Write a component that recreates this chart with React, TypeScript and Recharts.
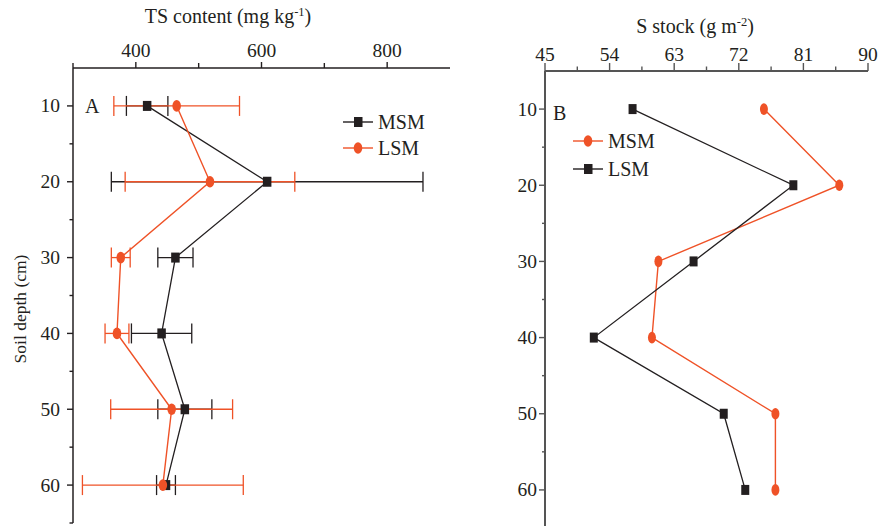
import React from 'react';
import { ScatterChart, Scatter, XAxis, YAxis, ErrorBar, Legend } from 'recharts';

// soil depth (cm)
const depths = [10, 20, 30, 40, 50, 60];

// panel A: TS content (mg kg-1)
const tsMsm = [418, 609, 463, 441, 478, 448];
const tsMsmErr = [33, 248, 28, 48, 43, 15];
const tsLsm = [465, 518, 376, 370, 457, 443];
const tsLsmErr = [100, 135, 15, 19, 97, 128];

// panel B: S stock (g m-2)
const stockOrange = [75.5, 86.0, 60.8, 59.9, 77.1, 77.1]; // legend "MSM"
const stockBlack = [57.2, 79.6, 65.7, 51.8, 69.9, 72.9]; // legend "LSM"

const tsTicks = [300, 400, 500, 600, 700, 800];
const tsLabels = [400, 600, 800];
const stockTicks = [45, 49.5, 54, 58.5, 63, 67.5, 72, 76.5, 81, 85.5, 90];
const stockLabels = [45, 54, 63, 72, 81, 90];
const depthTicksA = [10, 15, 20, 25, 30, 35, 40, 45, 50, 55, 60, 65];
const depthTicksB = [10, 15, 20, 25, 30, 35, 40, 45, 50, 55, 60];
const depthLabels = [10, 20, 30, 40, 50, 60];

const BLACK = '#231F20';
const ORANGE = '#EF5227';
const FONT = '"Liberation Serif", "Times New Roman", serif';

const rows = (xs: number[], errs?: number[]) =>
  depths.map((d, i) => ({ y: d, x: xs[i], err: errs ? errs[i] : 0 }));

const square = (color: string, w: number, h: number) => (p: any) =>
  <rect x={p.cx - w / 2} y={p.cy - h / 2} width={w} height={h} fill={color} />;
const dot = (color: string, rx: number, ry: number) => (p: any) =>
  <ellipse cx={p.cx} cy={p.cy} rx={rx} ry={ry} fill={color} />;

const topTick = (axisY: number, labels: number[], major: number, minor: number, gap: number, stroke: string) =>
  (p: any) => {
    const v = p.payload.value;
    const isMajor = labels.includes(v);
    return (
      <g>
        <line x1={p.x} x2={p.x} y1={axisY} y2={axisY - (isMajor ? major : minor)} stroke={stroke} strokeWidth={1.4} />
        {isMajor && (
          <text x={p.x} y={axisY - gap} textAnchor="middle" fontSize={19.5} fill={BLACK} fontFamily={FONT}>{v}</text>
        )}
      </g>
    );
  };

const leftTick = (axisX: number, labels: number[], major: number, minor: number, labelRight: number, stroke: string) =>
  (p: any) => {
    const v = p.payload.value;
    const isMajor = labels.includes(v);
    return (
      <g>
        <line x1={axisX} x2={axisX - (isMajor ? major : minor)} y1={p.y} y2={p.y} stroke={stroke} strokeWidth={1.4} />
        {isMajor && (
          <text x={labelRight} y={p.y + 6.5} textAnchor="end" fontSize={19.5} fill={BLACK} fontFamily={FONT}>{v}</text>
        )}
      </g>
    );
  };

const LegendBox = ({ items, rowGap }: { items: { name: string; color: string; marker: 'square' | 'circle' }[]; rowGap: number }) => (
  <svg width={110} height={70}>
    {items.map((it, i) => {
      const cy = 12 + i * rowGap;
      return (
        <g key={it.name}>
          <line x1={5} x2={35} y1={cy} y2={cy} stroke={it.color} strokeWidth={1.4} />
          {it.marker === 'square'
            ? <rect x={16} y={cy - 5} width={8.5} height={10} fill={it.color} />
            : <ellipse cx={20} cy={cy} rx={4.3} ry={5.8} fill={it.color} />}
          <text x={40} y={cy + 7} fontSize={20} fill={BLACK} fontFamily={FONT}>{it.name}</text>
        </g>
      );
    })}
  </svg>
);

const ChartA = () => (
  <ScatterChart width={470} height={526} margin={{ top: 0, right: 20, bottom: 3, left: 0 }} style={{ fontFamily: FONT }}>
    <XAxis
      type="number"
      dataKey="x"
      orientation="top"
      domain={[300, 900]}
      ticks={tsTicks}
      interval={0}
      height={68}
      tickLine={false}
      axisLine={{ stroke: BLACK, strokeWidth: 1.5 }}
      tick={topTick(68, tsLabels, 6, 5, 11.5, BLACK)}
      label={() => (
        <text x={228} y={23} textAnchor="middle" fontSize={20} fill={BLACK} fontFamily={FONT}>
          TS content (mg kg<tspan dy={-7} fontSize={12.5}>-1</tspan><tspan dy={7}>)</tspan>
        </text>
      )}
    />
    <YAxis
      type="number"
      dataKey="y"
      reversed
      domain={[5, 65]}
      ticks={depthTicksA}
      interval={0}
      width={73}
      tickLine={false}
      axisLine={{ stroke: BLACK, strokeWidth: 1.5 }}
      tick={leftTick(73, depthLabels, 6, 3.5, 60, BLACK)}
      label={() => (
        <g>
          <text transform="translate(26,309) rotate(-90)" textAnchor="middle" fontSize={17.5} fill={BLACK} fontFamily={FONT}>
            Soil depth (cm)
          </text>
          <text x={85} y={113} fontSize={20} fill={BLACK} fontFamily={FONT}>A</text>
        </g>
      )}
    />
    <Legend
      layout="vertical"
      align="center"
      verticalAlign="middle"
      wrapperStyle={{ left: 338, top: 110, width: 110, height: 70 }}
      content={() => (
        <LegendBox
          rowGap={26}
          items={[
            { name: 'MSM', color: BLACK, marker: 'square' },
            { name: 'LSM', color: ORANGE, marker: 'circle' },
          ]}
        />
      )}
    />
    <Scatter
      name="MSM"
      data={rows(tsMsm, tsMsmErr)}
      line={{ stroke: BLACK, strokeWidth: 1.3 }}
      lineType="joint"
      shape={square(BLACK, 8.5, 10)}
      isAnimationActive={false}
    >
      <ErrorBar dataKey="err" direction="x" width={10} stroke={BLACK} strokeWidth={1.3} isAnimationActive={false} />
    </Scatter>
    <Scatter
      name="LSM"
      data={rows(tsLsm, tsLsmErr)}
      line={{ stroke: ORANGE, strokeWidth: 1.4 }}
      lineType="joint"
      shape={dot(ORANGE, 4.3, 5.8)}
      isAnimationActive={false}
    >
      <ErrorBar dataKey="err" direction="x" width={10} stroke={ORANGE} strokeWidth={1.3} isAnimationActive={false} />
    </Scatter>
  </ScatterChart>
);

const ChartB = () => (
  <ScatterChart width={412} height={528} margin={{ top: 0, right: 14, bottom: 0, left: 0 }} style={{ fontFamily: FONT }}>
    <XAxis
      type="number"
      dataKey="x"
      orientation="top"
      domain={[45, 90]}
      ticks={stockTicks}
      interval={0}
      height={71}
      tickLine={false}
      axisLine={{ stroke: '#555', strokeWidth: 2 }}
      tick={topTick(71, stockLabels, 8, 4.5, 10.5, '#555')}
      label={() => (
        <text x={225} y={33} textAnchor="middle" fontSize={20} fill={BLACK} fontFamily={FONT}>
          S stock (g m<tspan dy={-7} fontSize={12.5}>-2</tspan><tspan dy={7}>)</tspan>
        </text>
      )}
    />
    <YAxis
      type="number"
      dataKey="y"
      reversed
      domain={[5, 65]}
      ticks={depthTicksB}
      interval={0}
      width={75}
      tickLine={false}
      axisLine={{ stroke: '#555', strokeWidth: 2 }}
      tick={leftTick(75, depthLabels, 6, 3, 67, '#555')}
      label={() => (
        <text x={83} y={120} fontSize={20} fill={BLACK} fontFamily={FONT}>B</text>
      )}
    />
    <Legend
      layout="vertical"
      align="center"
      verticalAlign="middle"
      wrapperStyle={{ left: 98, top: 129, width: 110, height: 70 }}
      content={() => (
        <LegendBox
          rowGap={28}
          items={[
            { name: 'MSM', color: ORANGE, marker: 'circle' },
            { name: 'LSM', color: BLACK, marker: 'square' },
          ]}
        />
      )}
    />
    <Scatter
      name="MSM"
      data={rows(stockOrange)}
      line={{ stroke: ORANGE, strokeWidth: 1.4 }}
      lineType="joint"
      shape={dot(ORANGE, 4, 5.8)}
      isAnimationActive={false}
    />
    <Scatter
      name="LSM"
      data={rows(stockBlack)}
      line={{ stroke: BLACK, strokeWidth: 1.3 }}
      lineType="joint"
      shape={square(BLACK, 8, 10)}
      isAnimationActive={false}
    />
  </ScatterChart>
);

export default function App() {
  return (
    <div style={{ position: 'absolute', left: 0, top: 0, width: 882, height: 526, overflow: 'hidden', background: '#fff' }}>
      <div style={{ position: 'absolute', left: 0, top: 0 }}>
        <ChartA />
      </div>
      <div style={{ position: 'absolute', left: 470, top: 0 }}>
        <ChartB />
      </div>
    </div>
  );
}
